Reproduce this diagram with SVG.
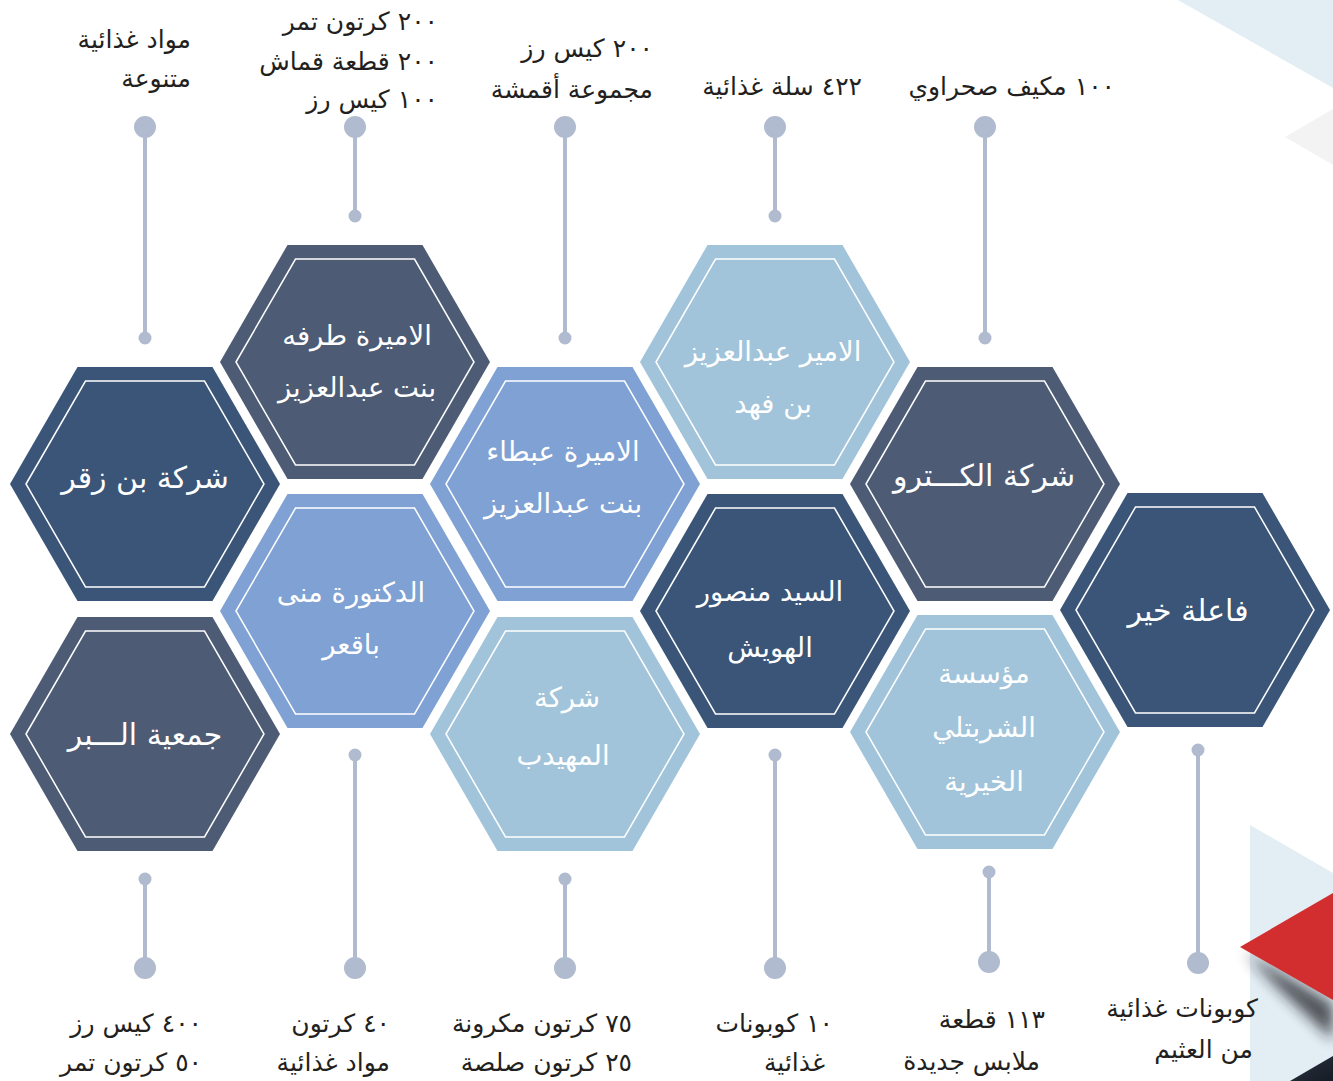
<svg xmlns="http://www.w3.org/2000/svg" xmlns:xlink="http://www.w3.org/1999/xlink" width="1333" height="1081" viewBox="0 0 1333 1081">
<style>
.lbl{font-family:"DejaVu Sans",sans-serif;font-size:25px;fill:#231f20;text-anchor:end}
.ht{font-family:"DejaVu Sans",sans-serif;font-size:27.5px;fill:#ffffff;text-anchor:middle}
.hb{font-family:"DejaVu Sans",sans-serif;font-size:30px;fill:#ffffff;text-anchor:middle}
.inner{fill:none;stroke:#ffffff;stroke-width:1.5}
.c1{fill:#4e5b75}
.c2{fill:#3a5577}
.c3{fill:#7fa1d3}
.c4{fill:#a2c4da}
.ln{stroke:#b0bbcf;stroke-width:4}
.dot{fill:#b0bbcf}
</style>
<defs>
<polygon id="hexO" points="-135,0 -67.5,-117 67.5,-117 135,0 67.5,117 -67.5,117"/>
<polygon id="hexI" points="-119,0 -59.5,-103 59.5,-103 119,0 59.5,103 -59.5,103"/>
<filter id="blur" x="-50%" y="-50%" width="200%" height="200%"><feGaussianBlur stdDeviation="7"/></filter>
<linearGradient id="dk" x1="0" y1="0" x2="1" y2="1"><stop offset="0" stop-color="#2a3442"/><stop offset="1" stop-color="#151b24"/></linearGradient>
</defs>
<g id="decor">
<polygon points="1178,0 1333,0 1333,88" fill="#e2edf4"/>
<polygon points="1285,137 1333,109 1333,165" fill="#f3f3f3"/>
<polygon points="1250,825 1333,873 1333,1081 1250,1081" fill="#e2edf4"/>
<polygon points="1245,952 1333,1004 1333,1040 1275,985" fill="#1a1d22" opacity="0.75" filter="url(#blur)"/>
<polygon points="1240,947 1333,893 1333,1000" fill="#d22e2f"/>
<polygon points="1290,1081 1333,1056 1333,1081" fill="url(#dk)"/>
</g>
<g id="connectors">
<line class="ln" x1="145" y1="127" x2="145" y2="338"/><circle class="dot" cx="145" cy="127" r="11"/><circle class="dot" cx="145" cy="338" r="6.5"/>
<line class="ln" x1="355" y1="127" x2="355" y2="216"/><circle class="dot" cx="355" cy="127" r="11"/><circle class="dot" cx="355" cy="216" r="6.5"/>
<line class="ln" x1="565" y1="127" x2="565" y2="338"/><circle class="dot" cx="565" cy="127" r="11"/><circle class="dot" cx="565" cy="338" r="6.5"/>
<line class="ln" x1="775" y1="127" x2="775" y2="216"/><circle class="dot" cx="775" cy="127" r="11"/><circle class="dot" cx="775" cy="216" r="6.5"/>
<line class="ln" x1="985" y1="127" x2="985" y2="338"/><circle class="dot" cx="985" cy="127" r="11"/><circle class="dot" cx="985" cy="338" r="6.5"/>
<line class="ln" x1="145" y1="879" x2="145" y2="968"/><circle class="dot" cx="145" cy="879" r="6.5"/><circle class="dot" cx="145" cy="968" r="11"/>
<line class="ln" x1="355" y1="755" x2="355" y2="968"/><circle class="dot" cx="355" cy="755" r="6.5"/><circle class="dot" cx="355" cy="968" r="11"/>
<line class="ln" x1="565" y1="879" x2="565" y2="968"/><circle class="dot" cx="565" cy="879" r="6.5"/><circle class="dot" cx="565" cy="968" r="11"/>
<line class="ln" x1="775" y1="755" x2="775" y2="968"/><circle class="dot" cx="775" cy="755" r="6.5"/><circle class="dot" cx="775" cy="968" r="11"/>
<line class="ln" x1="989" y1="872" x2="989" y2="962"/><circle class="dot" cx="989" cy="872" r="6.5"/><circle class="dot" cx="989" cy="962" r="11"/>
<line class="ln" x1="1198" y1="750" x2="1198" y2="963"/><circle class="dot" cx="1198" cy="750" r="6.5"/><circle class="dot" cx="1198" cy="963" r="11"/>
</g>
<g id="n-binzagr"><use href="#hexO" x="145" y="484" class="c2"/><use href="#hexI" x="145" y="484" class="inner"/><text class="hb" x="145" y="488">شركة بن زقر</text></g>
<g id="n-tarfa"><use href="#hexO" x="355" y="362" class="c1"/><use href="#hexI" x="355" y="362" class="inner"/><text class="ht" x="357" y="345">الاميرة طرفه</text><text class="ht" x="357" y="397">بنت عبدالعزيز</text></g>
<g id="n-abta"><use href="#hexO" x="565" y="484" class="c3"/><use href="#hexI" x="565" y="484" class="inner"/><text class="ht" x="563" y="461">الاميرة عبطاء</text><text class="ht" x="563" y="513">بنت عبدالعزيز</text></g>
<g id="n-abdulaziz"><use href="#hexO" x="775" y="362" class="c4"/><use href="#hexI" x="775" y="362" class="inner"/><text class="ht" x="773" y="361">الامير عبدالعزيز</text><text class="ht" x="773" y="413">بن فهد</text></g>
<g id="n-electro"><use href="#hexO" x="985" y="484" class="c1"/><use href="#hexI" x="985" y="484" class="inner"/><text class="hb" x="984" y="486">شركة الكـــترو</text></g>
<g id="n-mona"><use href="#hexO" x="355" y="611" class="c3"/><use href="#hexI" x="355" y="611" class="inner"/><text class="ht" x="351" y="602">الدكتورة منى</text><text class="ht" x="351" y="654">باقعر</text></g>
<g id="n-mansour"><use href="#hexO" x="775" y="611" class="c2"/><use href="#hexI" x="775" y="611" class="inner"/><text class="ht" x="770" y="601">السيد منصور</text><text class="ht" x="770" y="657">الهويش</text></g>
<g id="n-fa3el"><use href="#hexO" x="1195" y="610" class="c2"/><use href="#hexI" x="1195" y="610" class="inner"/><text class="hb" x="1188" y="621">فاعلة خير</text></g>
<g id="n-bir"><use href="#hexO" x="145" y="734" class="c1"/><use href="#hexI" x="145" y="734" class="inner"/><text class="hb" x="145" y="745">جمعية الـــبر</text></g>
<g id="n-muhaidib"><use href="#hexO" x="565" y="734" class="c4"/><use href="#hexI" x="565" y="734" class="inner"/><text class="ht" x="567" y="707">شركة</text><text class="ht" x="563" y="765">المهيدب</text></g>
<g id="n-shurbatli"><use href="#hexO" x="985" y="732" class="c4"/><use href="#hexI" x="985" y="732" class="inner"/><text class="ht" x="984" y="683">مؤسسة</text><text class="ht" x="984" y="737">الشربتلي</text><text class="ht" x="984" y="791">الخيرية</text></g>
<g id="labels">
<text class="lbl" x="191" y="48">مواد غذائية</text><text class="lbl" x="191" y="87">متنوعة</text>
<text class="lbl" x="438" y="30">٢٠٠ كرتون تمر</text><text class="lbl" x="438" y="70">٢٠٠ قطعة قماش</text><text class="lbl" x="438" y="108">١٠٠  كيس رز</text>
<text class="lbl" x="653" y="57">٢٠٠ كيس رز</text><text class="lbl" x="653" y="98">مجموعة أقمشة</text>
<text class="lbl" x="862" y="95">٤٢٢ سلة غذائية</text>
<text class="lbl" x="1115" y="95">١٠٠ مكيف صحراوي</text>
<text class="lbl" x="202" y="1032">٤٠٠ كيس رز</text><text class="lbl" x="202" y="1071">٥٠ كرتون تمر</text>
<text class="lbl" x="390" y="1032">٤٠ كرتون</text><text class="lbl" x="390" y="1071">مواد غذائية</text>
<text class="lbl" x="632" y="1032">٧٥ كرتون مكرونة</text><text class="lbl" x="632" y="1071">٢٥ كرتون صلصة</text>
<text class="lbl" x="833" y="1032">١٠ كوبونات</text><text class="lbl" x="825" y="1071">غذائية</text>
<text class="lbl" x="1045" y="1028">١١٣ قطعة</text><text class="lbl" x="1040" y="1070">ملابس جديدة</text>
<text class="lbl" x="1258" y="1017">كوبونات غذائية</text><text class="lbl" x="1253" y="1058">من العثيم</text>
</g>
</svg>
